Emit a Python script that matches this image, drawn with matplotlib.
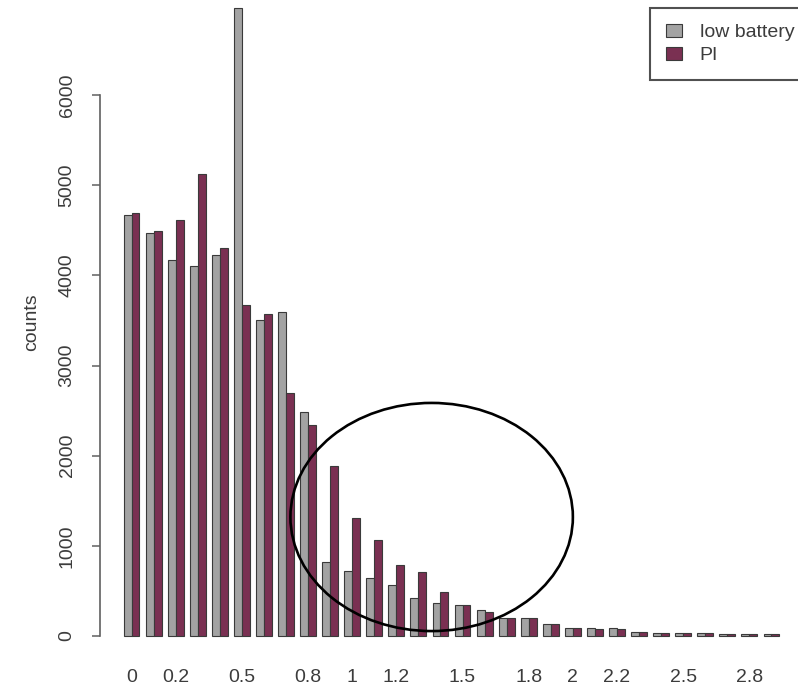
import matplotlib.pyplot as plt
from matplotlib.patches import Ellipse, Patch
import numpy as np

plt.rcParams["font.family"] = ["Liberation Sans", "DejaVu Sans"]

# Histogram bins (0 to 2.9 in steps of 0.1) and counts per source
BIN_LABELS = [
    "0", "0.1", "0.2", "0.3", "0.4", "0.5", "0.6", "0.7", "0.8", "0.9",
    "1", "1.1", "1.2", "1.3", "1.4", "1.5", "1.6", "1.7", "1.8", "1.9",
    "2", "2.1", "2.2", "2.3", "2.4", "2.5", "2.6", "2.7", "2.8", "2.9",
]
SHOWN_LABELS = ["0", "0.2", "0.5", "0.8", "1", "1.2", "1.5", "1.8", "2", "2.2", "2.5", "2.8"]

LOW_BATTERY = [
    4665, 4465, 4170, 4100, 4225, 6960, 3510, 3595, 2490, 825,
    725, 640, 565, 420, 365, 345, 290, 200, 200, 135,
    90, 85, 85, 50, 30, 30, 30, 25, 25, 25,
]
PI = [
    4695, 4495, 4615, 5125, 4300, 3670, 3570, 2700, 2340, 1885,
    1310, 1070, 785, 715, 485, 345, 265, 195, 195, 130,
    85, 75, 80, 45, 30, 30, 35, 25, 25, 25,
]
SERIES_NAMES = ["low battery", "PI"]
Y_TICKS = [0, 1000, 2000, 3000, 4000, 5000, 6000]

GRAY = "#a3a3a3"
MAROON = "#7a3052"
EDGE = "#3a3a3a"
TEXT = "#3c3c3c"

BAR_WIDTH = 0.36

fig = plt.figure(figsize=(7.98, 6.98), dpi=100)
ax = fig.add_axes([100 / 798, 58 / 698, 690 / 798, 635 / 698])

x = np.arange(len(BIN_LABELS))
ax.bar(x - BAR_WIDTH / 2, LOW_BATTERY, BAR_WIDTH, color=GRAY,
       edgecolor=EDGE, linewidth=0.8)
ax.bar(x + BAR_WIDTH / 2, PI, BAR_WIDTH, color=MAROON,
       edgecolor=EDGE, linewidth=0.8)

ax.set_xlim(-1.43, 29.84)
ax.set_ylim(-44, 6998)

# hand-drawn style highlight around the tail of the distribution
ax.add_patch(Ellipse((13.6, 1320), 12.8, 2530, fill=False,
                     edgecolor="black", linewidth=1.9))

for side in ("top", "right", "bottom"):
    ax.spines[side].set_visible(False)
ax.spines["left"].set_bounds(0, 6000)
ax.spines["left"].set_color("#606060")
ax.spines["left"].set_linewidth(1.2)

ax.set_yticks(Y_TICKS)
ax.set_yticklabels([str(v) for v in Y_TICKS], rotation=90, va="center")
ax.tick_params(axis="y", length=6, width=1.1, color="#606060", pad=11.5,
               labelsize=14, labelcolor=TEXT)

label_pos = [BIN_LABELS.index(lbl) for lbl in SHOWN_LABELS]
ax.set_xticks(label_pos)
ax.set_xticklabels(SHOWN_LABELS)
ax.tick_params(axis="x", length=0, pad=21, labelsize=14, labelcolor=TEXT)

ax.set_ylabel("counts", fontsize=14, color=TEXT, labelpad=13.5)

handles = [
    Patch(facecolor=GRAY, edgecolor=EDGE, linewidth=0.8),
    Patch(facecolor=MAROON, edgecolor=EDGE, linewidth=0.8),
]
leg = fig.legend(handles, SERIES_NAMES, loc="upper left",
                 bbox_to_anchor=(650 / 798, 1 - 8 / 698), borderaxespad=0,
                 fontsize=14, frameon=True, fancybox=False, framealpha=1,
                 edgecolor="#505050", handlelength=0.85, handleheight=0.65,
                 handletextpad=0.9, borderpad=0.8, labelspacing=0.3,
                 labelcolor=TEXT)
leg.get_frame().set_linewidth(1.5)

fig.savefig("out.png", dpi=100)
